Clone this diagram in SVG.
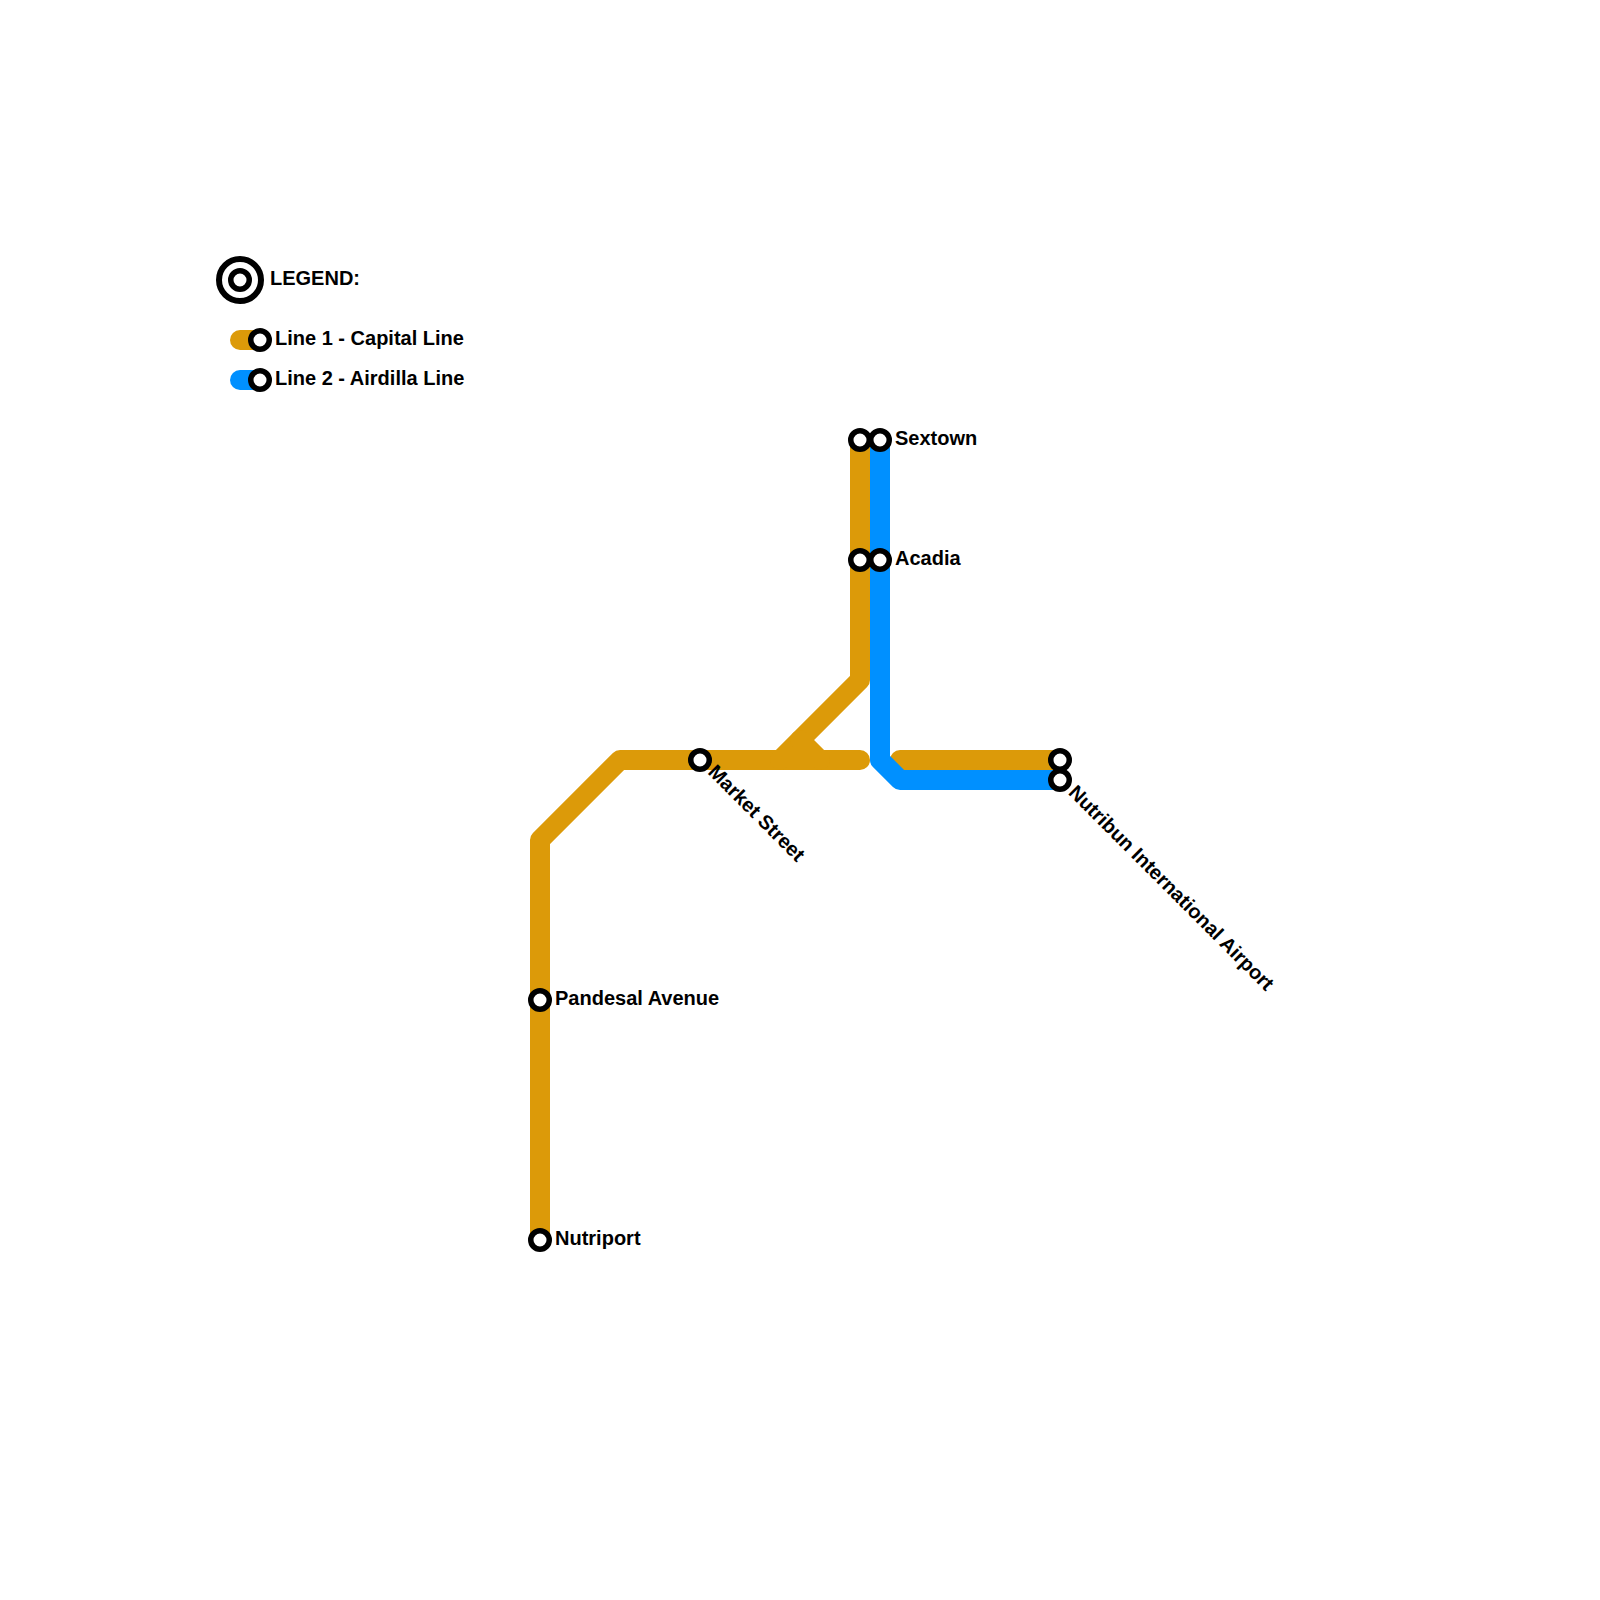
<svg xmlns="http://www.w3.org/2000/svg" width="1600" height="1600" viewBox="0 0 1600 1600">
<style>
.line{fill:none;stroke-width:20;stroke-linecap:round;stroke-linejoin:round}
.l1{stroke:#dc9a09}
.l2{stroke:#0090ff}
.st{fill:#fff;stroke:#000;stroke-width:5.5}
text{font-family:"Liberation Sans",Arial,sans-serif;font-weight:700;font-size:20px;fill:#000}
</style>
<rect width="1600" height="1600" fill="#fff"/>
<g id="connectors">
<path class="line l1" d="M540 1240V840L620 760H860"/>
<path class="line l1" d="M860 440V680L780 760"/>
<path class="line l1" d="M800 740L820 760"/>
<path class="line l1" d="M900 760H1060"/>
<path class="line l2" d="M880 440V760L900 780H1060"/>
<path class="line l1" d="M240 340H260"/>
<path class="line l2" d="M240 380H260"/>
</g>
<g id="legend"><circle cx="240" cy="280" r="21" fill="#fff" stroke="#000" stroke-width="6"/><circle cx="240" cy="280" r="9.25" class="st"/><text x="270" y="285">LEGEND:</text></g>
<g id="legend-line1"><circle cx="260" cy="340" r="9.25" class="st"/><text x="275" y="345">Line 1 - Capital Line</text></g>
<g id="legend-line2"><circle cx="260" cy="380" r="9.25" class="st"/><text x="275" y="385">Line 2 - Airdilla Line</text></g>
<g id="sextown"><circle cx="860" cy="440" r="9.25" class="st"/><circle cx="880" cy="440" r="9.25" class="st"/><text x="895" y="445">Sextown</text></g>
<g id="acadia"><circle cx="860" cy="560" r="9.25" class="st"/><circle cx="880" cy="560" r="9.25" class="st"/><text x="895" y="565">Acadia</text></g>
<g id="market-street"><circle cx="700" cy="760" r="9.25" class="st"/><text transform="translate(707 773) rotate(45)">Market Street</text></g>
<g id="nutribun"><circle cx="1060" cy="760" r="9.25" class="st"/><circle cx="1060" cy="780" r="9.25" class="st"/><text transform="translate(1067.5 793.5) rotate(45)">Nutribun International Airport</text></g>
<g id="pandesal"><circle cx="540" cy="1000" r="9.25" class="st"/><text x="555" y="1005">Pandesal Avenue</text></g>
<g id="nutriport"><circle cx="540" cy="1240" r="9.25" class="st"/><text x="555" y="1245">Nutriport</text></g>
</svg>
